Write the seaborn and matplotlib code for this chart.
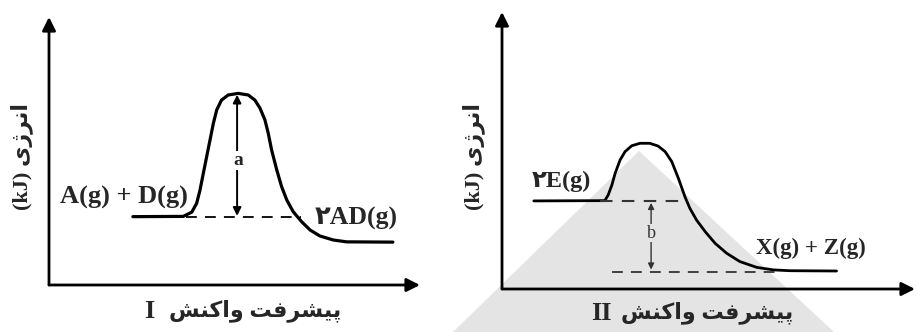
import numpy as np
import pandas as pd
import seaborn as sns
import matplotlib.pyplot as plt
from matplotlib.patches import Polygon

# ---------------- data (0..100 scale per panel) ----------------
progress_1 = [22.6, 36.2, 38.5, 39.8, 40.7, 41.6, 42.5, 43.4, 44.3, 45.2, 46.5, 48.3, 51.0,
              53.7, 55.5, 56.9, 58.2, 59.1, 60.0, 61.4, 62.7, 64.1, 65.8, 68.1, 70.4, 73.0,
              76.6, 80.2, 92.7]
energy_1 = [25.5, 25.6, 27.2, 30.5, 35.4, 41.7, 47.9, 54.1, 60.3, 65.3, 69.0, 70.9, 71.5,
            70.9, 69.0, 65.9, 61.6, 56.6, 50.4, 42.9, 36.7, 31.7, 27.4, 23.6, 20.5, 18.3,
            16.8, 16.1, 16.0]
react_level_1 = 25.5
peak_level_1 = 71.5
dash_1 = [37, 68]
arrow_x_1 = 50.7

progress_2 = [7.7, 24.9, 25.7, 26.6, 27.4, 28.6, 29.8, 31.4, 33.4, 35.8, 37.8, 39.5, 41.1,
              42.7, 44.3, 45.5, 47.1, 49.2, 51.6, 54.4, 57.6, 61.7, 65.7, 69.7, 81.0]
energy_2 = [31.8, 31.9, 33.9, 37.5, 41.8, 46.6, 49.6, 51.7, 52.6, 52.6, 51.6, 49.6, 46.0,
            40.0, 33.3, 29.1, 24.9, 20.7, 16.5, 12.9, 9.9, 7.8, 6.9, 6.6, 6.5]
react_level_2 = 31.8
prod_level_2 = 6.3
dash_2_upper = [23.7, 45.0]
dash_2_lower = [26.6, 67.0]
arrow_x_2 = 36.1

# labels (Persian written with Arabic presentation forms, visual order)
ylabel_fa = "(kJ) " + "\uFBFC\uFB8A\uFEAE\uFEE7\uFE8D"
xlabel_fa = "\uFEB6\uFEE8\uFB90\uFE8D\uFEED" + " " + "\uFE96\uFED3\uFEAE\uFEB8\uFBFF\uFB58"
numeral_1 = "I"
numeral_2 = "II"
react_lbl_1 = "A(g) + D(g)"
prod_lbl_1 = "\u06F2AD(g)"
react_lbl_2 = "\u06F2E(g)"
prod_lbl_2 = "X(g) + Z(g)"

# ---------------- figure ----------------
sns.set_theme(style="white")
plt.rcParams['font.family'] = ['Liberation Serif', 'DejaVu Sans']

W, H = 918, 332
fig = plt.figure(figsize=(W / 100, H / 100), dpi=100)
fig.patch.set_facecolor("white")

# watermark triangle behind panel II
bg = fig.add_axes([0, 0, 1, 1], zorder=-5)
bg.set_xlim(0, W); bg.set_ylim(H, 0); bg.axis("off")
bg.add_patch(Polygon([[639, 151], [453, 332], [834, 332]], closed=True,
                     facecolor="#e4e4e4", edgecolor="none"))

ax1 = fig.add_axes([49 / W, (H - 285) / H, 371 / W, 268 / H])
ax2 = fig.add_axes([502 / W, (H - 289) / H, 413 / W, 277 / H])

serif = ['Liberation Serif', 'DejaVu Sans']
fa = ['Liberation Serif', 'DejaVu Sans']

for ax in (ax1, ax2):
    ax.set_xlim(0, 100)
    ax.set_ylim(0, 100)
    ax.patch.set_alpha(0)
    for s in ax.spines.values():
        s.set_visible(False)
    ax.set_xticks([]); ax.set_yticks([])
    ax.set_xlabel(""); ax.set_ylabel("")
    ax.annotate("", xy=(0, 1), xytext=(0, 0), xycoords="axes fraction",
                arrowprops=dict(arrowstyle="-|>", lw=2, color="black",
                                mutation_scale=20, shrinkA=0, shrinkB=0))
    ax.annotate("", xy=(1, 0), xytext=(0, 0), xycoords="axes fraction",
                arrowprops=dict(arrowstyle="-|>", lw=2, color="black",
                                mutation_scale=20, shrinkA=0, shrinkB=0))

# ---- panel I
df1 = pd.DataFrame({"x": progress_1, "y": energy_1})
sns.lineplot(data=df1, x="x", y="y", ax=ax1, color="black", lw=2.3, sort=False,
             solid_joinstyle="round", solid_capstyle="round")
sns.lineplot(x=dash_1, y=[react_level_1] * 2, ax=ax1, color="black", lw=1.3,
             linestyle=(0, (6, 4.5)))
ax1.annotate("", xy=(arrow_x_1, peak_level_1 - 0.5), xytext=(arrow_x_1, react_level_1 + 0.3),
             arrowprops=dict(arrowstyle="<|-|>", lw=1.4, color="black",
                             mutation_scale=12, shrinkA=0, shrinkB=0))
ax1.text(arrow_x_1 + 0.3, 46.5, "a", fontsize=14, fontweight="bold", family=serif,
         ha="center", va="center", bbox=dict(fc="white", ec="none", pad=0.5))
ax1.text(37.5, 32.5, react_lbl_1, fontsize=19, fontweight="bold", family=serif,
         ha="right", va="center")
ax1.text(71.5, 25, prod_lbl_1, fontsize=18.5, fontweight="bold", family=serif,
         ha="left", va="center")

# ---- panel II
df2 = pd.DataFrame({"x": progress_2, "y": energy_2})
sns.lineplot(data=df2, x="x", y="y", ax=ax2, color="black", lw=2.0, sort=False,
             solid_joinstyle="round", solid_capstyle="round")
sns.lineplot(x=dash_2_upper, y=[react_level_2] * 2, ax=ax2, color="#333333", lw=1.5,
             linestyle=(0, (6, 4.5)))
sns.lineplot(x=dash_2_lower, y=[prod_level_2] * 2, ax=ax2, color="#333333", lw=1.3,
             linestyle=(0, (6, 4.5)))
ax2.annotate("", xy=(arrow_x_2, react_level_2 - 0.7), xytext=(arrow_x_2, prod_level_2 + 0.7),
             arrowprops=dict(arrowstyle="<|-|>", lw=1.0, color="#333333",
                             mutation_scale=9, shrinkA=0, shrinkB=0))
ax2.text(arrow_x_2 + 0.2, 20.2, "b", fontsize=13, family=serif, color="#333333",
         ha="center", va="center", bbox=dict(fc="#e4e4e4", ec="none", pad=0.5))
ax2.text(7.3, 39, react_lbl_2, fontsize=17.5, fontweight="bold", family=serif,
         ha="left", va="center")
ax2.text(61.5, 14.5, prod_lbl_2, fontsize=16.5, fontweight="bold", family=serif,
         ha="left", va="center")

# ---- axis titles
fig.text(22 / W, 1 - 157 / H, ylabel_fa, rotation=90, fontsize=16, fontweight="bold",
         family=fa, ha="center", va="center")
fig.text(474 / W, 1 - 157 / H, ylabel_fa, rotation=90, fontsize=16, fontweight="bold",
         family=fa, ha="center", va="center")

fig.text(341 / W, 1 - 311 / H, xlabel_fa, fontsize=16, fontweight="bold",
         family=fa, ha="right", va="center")
fig.text(154 / W, 1 - 311 / H, numeral_1, fontsize=19, fontweight="bold",
         family=serif, ha="right", va="center")
fig.text(793 / W, 1 - 313 / H, xlabel_fa, fontsize=16, fontweight="bold",
         family=fa, ha="right", va="center")
fig.text(612 / W, 1 - 313 / H, numeral_2, fontsize=19, fontweight="bold",
         family=serif, ha="right", va="center")

fig.savefig("out.png", dpi=100)
